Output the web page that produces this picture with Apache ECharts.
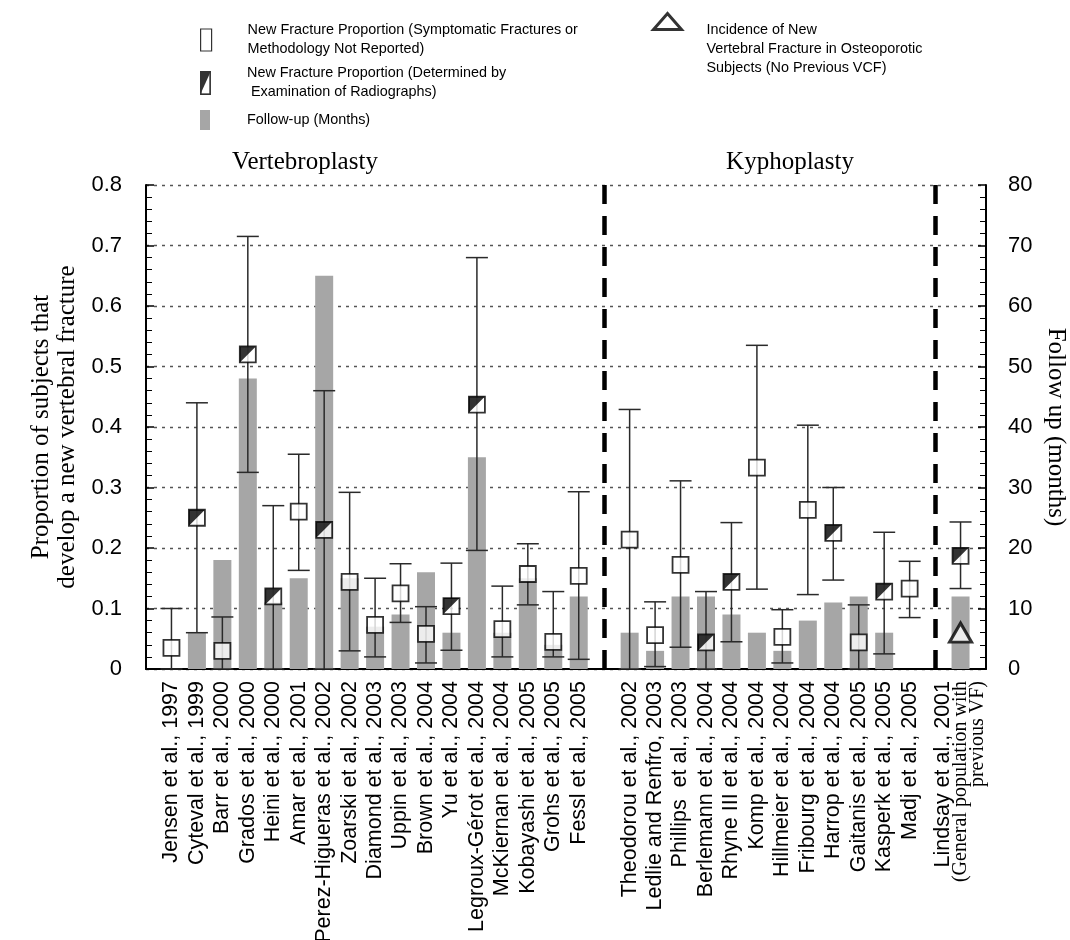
<!DOCTYPE html>
<html>
<head>
<meta charset="utf-8">
<script src="https://cdn.jsdelivr.net/npm/echarts@6/dist/echarts.min.js"></script>
<style>html,body{margin:0;padding:0;background:#fff;}#chart{width:1070px;height:940px;}</style>
</head>
<body>
<div id="chart"></div>
<script>
// ---- DATA ----
const vertebroplastyStudies = [
  'Jensen et al., 1997', 'Cyteval et al., 1999', 'Barr et al., 2000', 'Grados et al., 2000',
  'Heini et al., 2000', 'Amar et al., 2001', 'Perez-Higueras et al., 2002', 'Zoarski et al., 2002',
  'Diamond et al., 2003', 'Uppin et al., 2003', 'Brown et al., 2004', 'Yu et al., 2004',
  'Legroux-Gérot et al., 2004', 'McKiernan et al., 2004', 'Kobayashi et al., 2005',
  'Grohs et al., 2005', 'Fessl et al., 2005'
];
const kyphoplastyStudies = [
  'Theodorou et al., 2002', 'Ledlie and Renfro, 2003', 'Phillips  et al., 2003', 'Berlemann et al., 2004',
  'Rhyne III et al., 2004', 'Komp et al., 2004', 'Hillmeier et al., 2004', 'Fribourg et al., 2004',
  'Harrop et al., 2004', 'Gaitanis et al., 2005', 'Kasperk et al., 2005', 'Madj et al., 2005'
];
const comparisonStudies = ['Lindsay et al., 2001\n(General population with\nprevious VF)'];

// New fracture proportion, symptomatic fractures or methodology not reported (open squares)
const propSymptomatic = [
  0.035, null, 0.030, null, null, 0.260, null, 0.144, 0.073, 0.125, 0.058, null, null, 0.066, 0.157, 0.045, 0.154,
  0.214, 0.056, 0.172, null, null, 0.333, 0.053, 0.263, null, 0.044, null, 0.133,
  null
];
// New fracture proportion, determined by examination of radiographs (half-filled squares)
const propRadiograph = [
  null, 0.250, null, 0.520, 0.120, null, 0.230, null, null, null, null, 0.104, 0.437, null, null, null, null,
  null, null, null, 0.044, 0.144, null, null, null, 0.225, null, 0.128, null,
  0.187
];
const ciLower = [
  0.000, 0.060, 0.000, 0.325, 0.000, 0.163, 0.000, 0.030, 0.020, 0.077, 0.010, 0.031, 0.196, 0.020, 0.106, 0.020, 0.016,
  0.000, 0.004, 0.036, 0.000, 0.045, 0.132, 0.010, 0.123, 0.147, 0.000, 0.025, 0.085,
  0.133
];
const ciUpper = [
  0.100, 0.440, 0.086, 0.715, 0.270, 0.355, 0.460, 0.292, 0.150, 0.174, 0.103, 0.175, 0.680, 0.137, 0.207, 0.128, 0.293,
  0.429, 0.111, 0.311, 0.128, 0.242, 0.535, 0.098, 0.403, 0.300, 0.106, 0.226, 0.178,
  0.243
];
// Follow-up (months)
const followUpMonths = [
  null, 6, 18, 48, 11, 15, 65, 15, 7, 9, 16, 6, 35, 6, 15, 4, 12,
  6, 3, 12, 12, 9, 6, 3, 8, 11, 12, 6, null,
  12
];
// Incidence of new vertebral fracture in osteoporotic subjects (no previous VCF)
const incidenceNoPrevVCF = [
  null, null, null, null, null, null, null, null, null, null, null, null, null, null, null, null, null,
  null, null, null, null, null, null, null, null, null, null, null, null,
  0.06
];
const leftTicks = [0, 0.1, 0.2, 0.3, 0.4, 0.5, 0.6, 0.7, 0.8];
const rightTicks = [0, 10, 20, 30, 40, 50, 60, 70, 80];

// ---- BUILD ----
const nV = vertebroplastyStudies.length, nK = kyphoplastyStudies.length;
function toSlots(arr, blank) {
  return [blank, ...arr.slice(0, nV), blank, ...arr.slice(nV, nV + nK), blank, ...arr.slice(nV + nK), blank];
}
const categories = toSlots([...vertebroplastyStudies, ...kyphoplastyStudies, ...comparisonStudies], '');
const sepA = 1 + nV, sepB = 2 + nV + nK;
const lo = toSlots(ciLower, null), hi = toSlots(ciUpper, null);
const errData = [];
lo.forEach((v, i) => { if (v !== null && hi[i] !== null) errData.push([i, v, hi[i]]); });

const NAME_OPEN = 'New Fracture Proportion (Symptomatic Fractures or\nMethodology Not Reported)';
const NAME_HALF = 'New Fracture Proportion (Determined by\n Examination of Radiographs)';
const NAME_BAR = 'Follow-up (Months)';
const NAME_TRI = 'Incidence of New\nVertebral Fracture in Osteoporotic\nSubjects (No Previous VCF)';

const halfSvg = "<svg xmlns='http://www.w3.org/2000/svg' width='20' height='44'><rect x='1.5' y='1.5' width='17' height='41' fill='white' stroke='black' stroke-width='3'/><polygon points='0,0 20,0 0,44' fill='black'/></svg>";
const halfIcon = 'image://data:image/svg+xml;charset=utf-8,' + encodeURIComponent(halfSvg);

const SANS = '"Liberation Sans", Arial, sans-serif';
const SERIF = '"Liberation Serif", "Times New Roman", serif';
const legendText = { color: '#000', fontFamily: SANS, fontSize: 14.4, lineHeight: 19 };

const chart = echarts.init(document.getElementById('chart'), null, { renderer: 'canvas' });
chart.setOption({
  backgroundColor: '#fff',
  animation: false,
  graphic: [
    { type: 'text', x: 305, y: 150, style: { text: 'Vertebroplasty', font: '25px ' + SERIF, fill: '#000', textAlign: 'center' } },
    { type: 'text', x: 790, y: 150, style: { text: 'Kyphoplasty', font: '25px ' + SERIF, fill: '#000', textAlign: 'center' } }
  ],
  legend: [
    { left: 200, top: 21, padding: 0, orient: 'vertical', itemWidth: 11, itemHeight: 22, selectedMode: false,
      data: [{ name: NAME_OPEN, icon: 'rect', itemStyle: { color: '#fff', borderColor: '#000', borderWidth: 1.2 } }],
      textStyle: Object.assign({ padding: [0, 0, 0, 31] }, legendText) },
    { left: 200, top: 64, padding: 0, orient: 'vertical', itemWidth: 11, itemHeight: 24, selectedMode: false,
      data: [{ name: NAME_HALF, icon: halfIcon }],
      textStyle: Object.assign({ padding: [0, 0, 0, 31] }, legendText) },
    { left: 200, top: 110, padding: 0, orient: 'vertical', itemWidth: 10, itemHeight: 20, selectedMode: false,
      data: [{ name: NAME_BAR, icon: 'rect', itemStyle: { color: '#a6a6a6' } }],
      textStyle: Object.assign({ padding: [0, 0, 0, 32] }, legendText) },
    { left: 652, top: 12, padding: 0, orient: 'vertical', itemWidth: 28, itemHeight: 72, selectedMode: false,
      data: [{ name: NAME_TRI, icon: 'path://M14,0L28,16L0,16Z M28,72', itemStyle: { color: '#fff', borderColor: '#000', borderWidth: 3 } }],
      textStyle: Object.assign({ padding: [0, 0, 0, 20], lineHeight: 20 }, legendText) }
  ],
  grid: { left: 146, right: 84, top: 185, bottom: 271, containLabel: false, outerBoundsMode: 'none' },
  xAxis: {
    type: 'category', data: categories, boundaryGap: false,
    axisLine: { show: true, lineStyle: { color: '#000', width: 2 } },
    axisTick: { show: false },
    splitLine: { show: false },
    axisLabel: {
      interval: 0, rotate: 90, margin: 12, color: '#000', fontFamily: SANS, fontSize: 21.5,
      formatter: function (v) {
        if (v.indexOf('\n') < 0) return v;
        const parts = v.split('\n');
        return '{a|' + parts[0] + '}\n' + parts.slice(1).map(p => '{b|' + p + '}').join('\n');
      },
      rich: {
        a: { fontFamily: SANS, fontSize: 21.5, color: '#000', lineHeight: 18 },
        b: { fontFamily: SERIF, fontSize: 20, color: '#000', lineHeight: 17 }
      }
    }
  },
  yAxis: [
    {
      type: 'value', min: leftTicks[0], max: leftTicks[leftTicks.length - 1], interval: 0.1,
      name: 'Proportion of subjects that\ndevelop a new vertebral fracture',
      nameLocation: 'middle', nameGap: 66, nameRotate: 90,
      nameTextStyle: { fontFamily: SERIF, fontSize: 25, lineHeight: 26, color: '#000' },
      axisLine: { show: true, lineStyle: { color: '#000', width: 2 } },
      axisTick: { show: true, inside: true, length: 8, lineStyle: { color: '#000', width: 1.5 } },
      minorTick: { show: true, splitNumber: 5, length: 6, lineStyle: { color: '#000', width: 1 } },
      axisLabel: { color: '#000', fontFamily: SANS, fontSize: 22, margin: 24,
        formatter: v => (v === 0 ? '0' : v.toFixed(1)) },
      splitLine: { show: true, lineStyle: { color: '#555', width: 1.3, type: [3, 5] } }
    },
    {
      type: 'value', min: rightTicks[0], max: rightTicks[rightTicks.length - 1], interval: 10, position: 'right',
      name: 'Follow up (months)', nameLocation: 'middle', nameGap: 52, nameRotate: -90,
      nameTextStyle: { fontFamily: SERIF, fontSize: 25, color: '#000' },
      axisLine: { show: true, lineStyle: { color: '#000', width: 2 } },
      axisTick: { show: true, inside: true, length: 8, lineStyle: { color: '#000', width: 1.5 } },
      minorTick: { show: true, splitNumber: 5, length: 6, lineStyle: { color: '#000', width: 1 } },
      axisLabel: { color: '#000', fontFamily: SANS, fontSize: 22, margin: 22 },
      splitLine: { show: false }
    }
  ],
  series: [
    {
      name: NAME_BAR, type: 'bar', yAxisIndex: 1, barWidth: 18, z: 1,
      itemStyle: { color: '#a6a6a6' },
      data: toSlots(followUpMonths, null),
      markLine: {
        silent: true, symbol: 'none', label: { show: false },
        lineStyle: { color: '#000', width: 4.5, type: [19, 12] },
        data: [{ xAxis: sepA }, { xAxis: sepB }]
      }
    },
    {
      name: 'CI', type: 'custom', z: 3, silent: true,
      encode: { x: 0, y: [1, 2] },
      data: errData,
      renderItem: function (params, api) {
        const x = api.value(0);
        const p1 = api.coord([x, api.value(1)]);
        const p2 = api.coord([x, api.value(2)]);
        const w = 11;
        const st = { stroke: '#2a2a2a', lineWidth: 1.5 };
        return {
          type: 'group', children: [
            { type: 'line', shape: { x1: p1[0], y1: p1[1], x2: p2[0], y2: p2[1] }, style: st },
            { type: 'line', shape: { x1: p2[0] - w, y1: p2[1], x2: p2[0] + w, y2: p2[1] }, style: st },
            { type: 'line', shape: { x1: p1[0] - w, y1: p1[1], x2: p1[0] + w, y2: p1[1] }, style: st }
          ]
        };
      }
    },
    {
      name: NAME_OPEN, type: 'scatter', symbol: 'rect', symbolSize: 16, z: 5,
      itemStyle: { color: '#fff', borderColor: '#000', borderWidth: 1.8 },
      data: toSlots(propSymptomatic, null)
    },
    {
      name: NAME_HALF, type: 'scatter', symbol: 'rect', symbolSize: 16, z: 5,
      itemStyle: { color: '#fff', borderColor: '#000', borderWidth: 1.8 },
      data: toSlots(propRadiograph, null)
    },
    {
      name: 'half-fill', type: 'scatter', symbol: 'path://M0,0L10,0L0,10Z', symbolSize: 16, z: 6, silent: true,
      itemStyle: { color: '#000' },
      data: toSlots(propRadiograph, null)
    },
    {
      name: NAME_TRI, type: 'scatter', symbol: 'triangle', symbolSize: [22, 19], z: 5,
      itemStyle: { color: '#fff', borderColor: '#000', borderWidth: 3 },
      data: toSlots(incidenceNoPrevVCF, null)
    }
  ]
});
</script>
</body>
</html>
